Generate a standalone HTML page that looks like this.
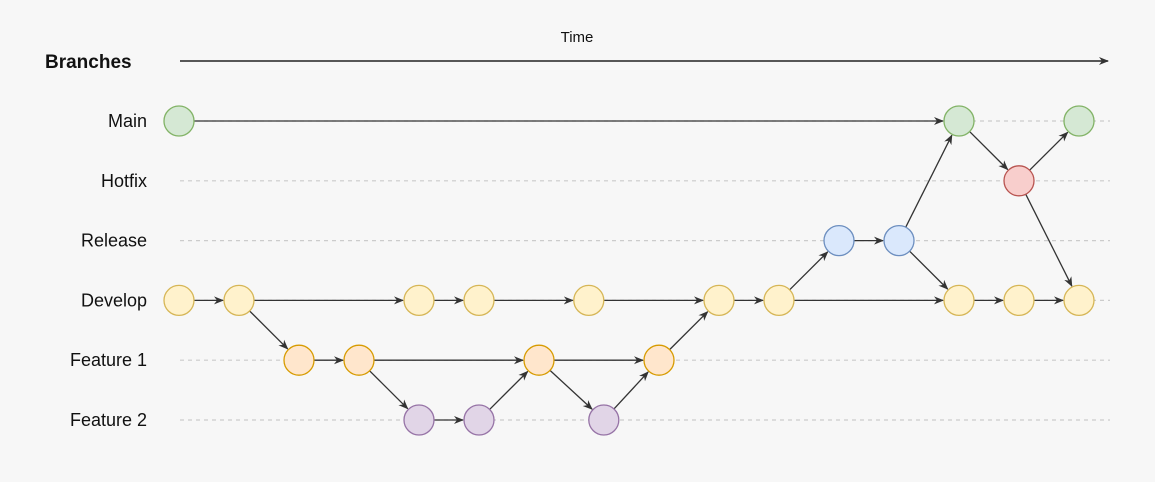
<!DOCTYPE html>
<html><head><meta charset="utf-8"><style>
html,body{margin:0;padding:0;background:#f7f7f7;}
svg{display:block;font-family:"Liberation Sans",Arial,sans-serif;}
</style></head><body>
<svg id="chart" width="1155" height="482" viewBox="0 0 1155 482">
<defs><marker id="ah" markerWidth="10" markerHeight="10" refX="9" refY="5" orient="auto" markerUnits="userSpaceOnUse"><path d="M0,1 L10,5 L0,9 L3,5 Z" fill="#333"/></marker></defs>
<rect width="1155" height="482" fill="#f7f7f7"/>
<text x="45" y="68" font-size="19" font-weight="bold" fill="#111">Branches</text>
<text x="577" y="42" font-size="15" fill="#111" text-anchor="middle">Time</text>
<line x1="180" y1="61" x2="1108" y2="61" stroke="#222" stroke-width="1.5" marker-end="url(#ah)"/>
<g id="lanes"></g><g id="edges"></g><g id="nodes"></g>
</svg>
<script>
const lanes = ["Main","Hotfix","Release","Develop","Feature 1","Feature 2"];
const laneFill = ["#d5e8d4","#f8cecc","#dae8fc","#fff2cc","#ffe6cc","#e1d5e7"];
const laneStroke = ["#82b366","#b85450","#6c8ebf","#d6b656","#d79b00","#9673a6"];
// commits: [time step, lane index]
const commitTime = [0,13,15, 14, 11,12, 0,1,4,5,6.83,9,10,13,14,15, 2,3,6,8, 4,5,7.08];
const commitLane = [0,0,0, 1, 2,2, 3,3,3,3,3,3,3,3,3,3, 4,4,4,4, 5,5,5];
const edgeFrom = [0,1,3,3,4,5,5,6,7,7,8,9,10,11,12,12,13,14,16,17,17,20,21,18,18,22,19];
const edgeTo   = [1,3,2,15,5,1,13,7,8,16,9,10,11,12,4,13,14,15,17,18,20,21,18,19,22,19,11];
const x = t => 179 + t*60;
const y = l => 121 + l*59.8;
const NS="http://www.w3.org/2000/svg";
const gL=document.getElementById('lanes'),gE=document.getElementById('edges'),gN=document.getElementById('nodes');
lanes.forEach((name,i)=>{
  const ln=document.createElementNS(NS,'line');
  ln.setAttribute('x1',180);ln.setAttribute('x2',1110);ln.setAttribute('y1',y(i));ln.setAttribute('y2',y(i));
  ln.setAttribute('stroke','#ccc');ln.setAttribute('stroke-dasharray','4 4');ln.setAttribute('stroke-width','1.2');
  
  
  gL.appendChild(ln);
  const t=document.createElementNS(NS,'text');
  t.setAttribute('x',147);t.setAttribute('y',y(i)+6);t.setAttribute('text-anchor','end');
  t.setAttribute('font-size','18');t.setAttribute('fill','#111');t.textContent=name;
  
  
  gL.appendChild(t);
});
const R=15;
edgeFrom.forEach((f,i)=>{
  const to=edgeTo[i];
  const x1=x(commitTime[f]),y1=y(commitLane[f]),x2=x(commitTime[to]),y2=y(commitLane[to]);
  const d=Math.hypot(x2-x1,y2-y1),ux=(x2-x1)/d,uy=(y2-y1)/d;
  const ln=document.createElementNS(NS,'line');
  ln.setAttribute('x1',x1+ux*R);ln.setAttribute('y1',y1+uy*R);
  ln.setAttribute('x2',x2-ux*(R+1));ln.setAttribute('y2',y2-uy*(R+1));
  ln.setAttribute('stroke','#333');ln.setAttribute('stroke-width','1.3');ln.setAttribute('marker-end','url(#ah)');
  
  
  gE.appendChild(ln);
});
commitTime.forEach((t,i)=>{
  const l=commitLane[i];
  const c=document.createElementNS(NS,'circle');
  c.setAttribute('cx',x(t));c.setAttribute('cy',y(l));c.setAttribute('r',R);
  c.setAttribute('fill',laneFill[l]);c.setAttribute('stroke',laneStroke[l]);c.setAttribute('stroke-width','1.3');
  
  
  gN.appendChild(c);
});
</script>
</body></html>
